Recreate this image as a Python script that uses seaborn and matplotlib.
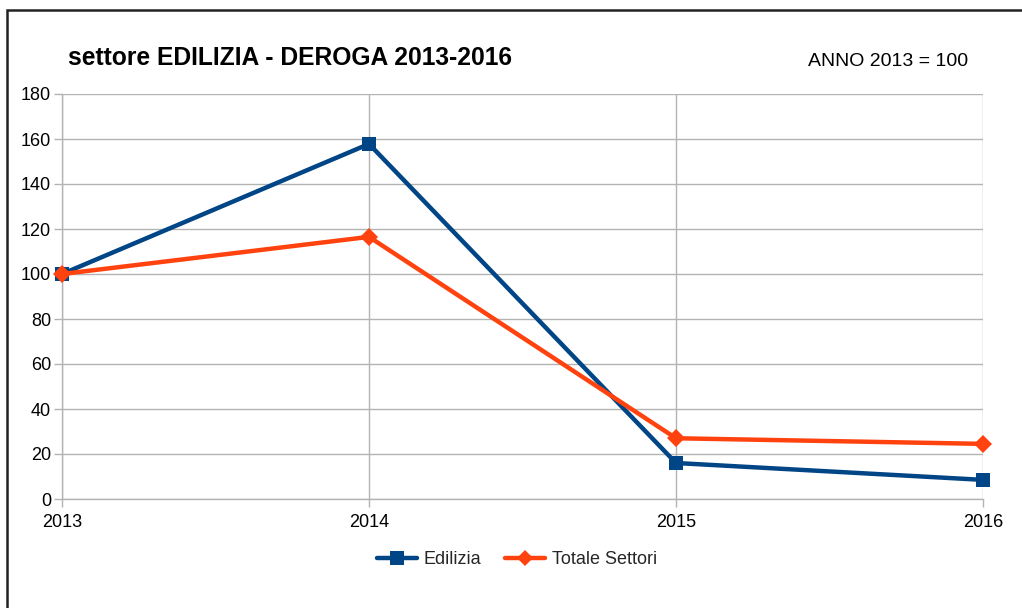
import matplotlib
matplotlib.use("Agg")
import matplotlib.pyplot as plt
import seaborn as sns
import pandas as pd
from matplotlib.patches import Rectangle
from matplotlib.lines import Line2D

years = [2013, 2014, 2015, 2016]
edilizia = [100, 157.8, 16, 8.5]
totale = [100, 116.5, 27, 24.5]
series_names = ["Edilizia", "Totale Settori"]
yticks = [0, 20, 40, 60, 80, 100, 120, 140, 160, 180]

df = pd.DataFrame({
    "anno": years * 2,
    "valore": edilizia + totale,
    "serie": [series_names[0]] * 4 + [series_names[1]] * 4,
})

sns.set_theme(style="white")
plt.rcParams['font.family'] = ['Liberation Sans', 'DejaVu Sans']

fig = plt.figure(figsize=(10.22, 6.08), dpi=100)
ax = fig.add_axes([62/1022, 1-499/608, (983-62)/1022, (499-94)/608])

palette = {"Edilizia": "#004586", "Totale Settori": "#ff420e"}
markers = {"Edilizia": "s", "Totale Settori": "D"}
sns.lineplot(data=df, x="anno", y="valore", hue="serie", style="serie",
             palette=palette, markers=markers, dashes=False, linewidth=3.2,
             markersize=10, markeredgewidth=0, ax=ax, legend=False, zorder=3)
for ln in ax.lines:
    ln.set_clip_on(False)
    if ln.get_marker() == "D":
        ln.set_markersize(9)

ax.set_xlim(2013, 2016)
ax.set_ylim(0, 180)
ax.set_xticks(years)
ax.set_xticklabels([str(y) for y in years])
ax.set_yticks(yticks)
ax.set_xlabel("")
ax.set_ylabel("")
ax.grid(True, color="#b3b3b3", linewidth=1)
ax.set_axisbelow(True)
for s in ["top", "right"]:
    ax.spines[s].set_visible(False)
for s in ["left", "bottom"]:
    ax.spines[s].set_color("#b3b3b3")
    ax.spines[s].set_linewidth(1)
ax.tick_params(axis="both", which="major", length=6, width=1, color="#b3b3b3",
               labelsize=13, labelcolor="black", direction="out",
               left=True, bottom=True)
ax.tick_params(axis="y", pad=2)
ax.tick_params(axis="x", pad=5)

handles = [Line2D([], [], color=palette[n], marker=markers[n], linewidth=3.2,
                  markersize=10 if n == "Edilizia" else 8, markeredgewidth=0) for n in series_names]
fig.legend(handles, series_names, loc="center", bbox_to_anchor=(517/1022, 1-560/608),
           ncol=2, frameon=False, fontsize=13, handlelength=2.2,
           columnspacing=1.3, handletextpad=0.4)

fig.text(68/1022, 1-58/608, "settore EDILIZIA - DEROGA 2013-2016", fontsize=17.7,
         fontweight="bold", ha="left", va="center", color="black")
fig.text(888/1022, 1-62/608, "ANNO 2013 = 100", fontsize=14, ha="center", va="center",
         color="black")

fig.patches.append(Rectangle((7/1022, -0.1), 1.1, 1-10/608 + 0.1, transform=fig.transFigure,
                             fill=False, edgecolor="#222222", linewidth=1.8, figure=fig))

fig.savefig("out.png", dpi=100)
